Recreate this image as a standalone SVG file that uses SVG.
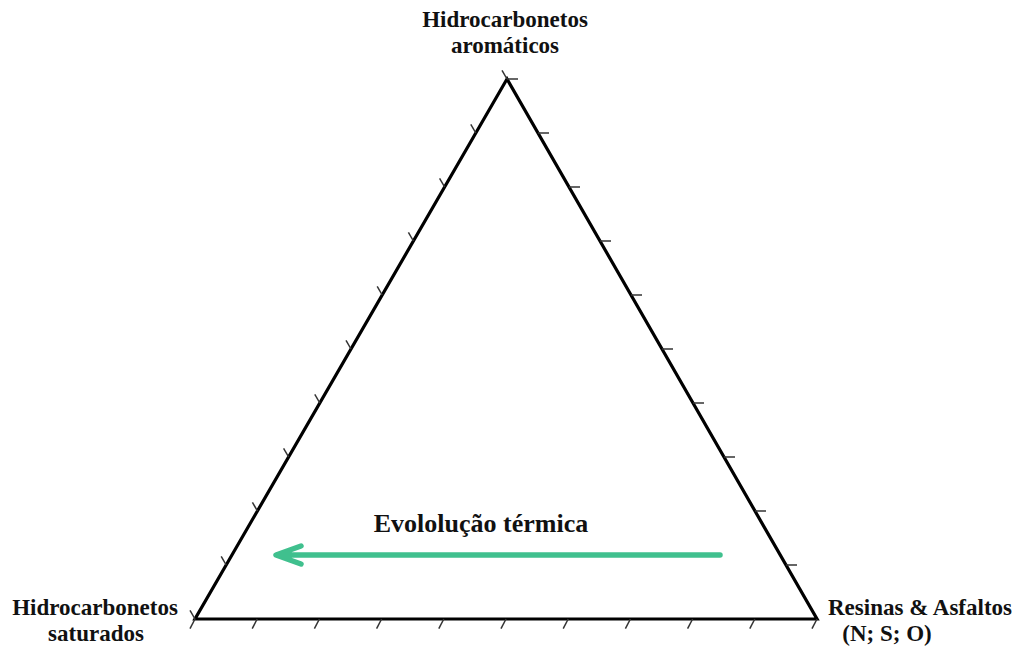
<svg xmlns="http://www.w3.org/2000/svg" width="1014" height="650" viewBox="0 0 1014 650">
<style>
.lbl{font-family:"Liberation Serif","Times New Roman",serif;font-weight:bold;font-size:23px;fill:#111;text-anchor:middle}
.tk{stroke:#333;stroke-width:1.5;fill:none}
.edge{stroke:#000;stroke-width:3.2;fill:none;stroke-linejoin:miter}
</style>
<rect width="1014" height="650" fill="#fff"/>
<g id="triangle">
<polygon class="edge" points="507,79 195,619 817,619"/>
</g>
<g id="ticks">
<g id="ticks-bottom" class="tk">
<line x1="195" y1="619" x2="190" y2="628.7"/>
<line x1="257.2" y1="619" x2="252.2" y2="628.7"/>
<line x1="319.4" y1="619" x2="314.4" y2="628.7"/>
<line x1="381.6" y1="619" x2="376.6" y2="628.7"/>
<line x1="443.8" y1="619" x2="438.8" y2="628.7"/>
<line x1="506" y1="619" x2="501" y2="628.7"/>
<line x1="568.2" y1="619" x2="563.2" y2="628.7"/>
<line x1="630.4" y1="619" x2="625.4" y2="628.7"/>
<line x1="692.6" y1="619" x2="687.6" y2="628.7"/>
<line x1="754.8" y1="619" x2="749.8" y2="628.7"/>
<line x1="817" y1="619" x2="812" y2="628.7"/>
</g>
<g id="ticks-left" class="tk">
<line x1="195" y1="619" x2="190" y2="610.3"/>
<line x1="226.2" y1="565" x2="221.2" y2="556.3"/>
<line x1="257.4" y1="511" x2="252.4" y2="502.3"/>
<line x1="288.6" y1="457" x2="283.6" y2="448.3"/>
<line x1="319.8" y1="403" x2="314.8" y2="394.3"/>
<line x1="351" y1="349" x2="346" y2="340.3"/>
<line x1="382.2" y1="295" x2="377.2" y2="286.3"/>
<line x1="413.4" y1="241" x2="408.4" y2="232.3"/>
<line x1="444.6" y1="187" x2="439.6" y2="178.3"/>
<line x1="475.8" y1="133" x2="470.8" y2="124.3"/>
<line x1="507" y1="79" x2="502" y2="70.3"/>
</g>
<g id="ticks-right" class="tk">
<line x1="507" y1="79" x2="518" y2="79"/>
<line x1="538" y1="133" x2="549" y2="133"/>
<line x1="569" y1="187" x2="580" y2="187"/>
<line x1="600" y1="241" x2="611" y2="241"/>
<line x1="631" y1="295" x2="642" y2="295"/>
<line x1="662" y1="349" x2="673" y2="349"/>
<line x1="693" y1="403" x2="704" y2="403"/>
<line x1="724" y1="457" x2="735" y2="457"/>
<line x1="755" y1="511" x2="766" y2="511"/>
<line x1="786" y1="565" x2="797" y2="565"/>
</g>
</g>
<g id="node-aromaticos">
<text class="lbl" x="505" y="27">Hidrocarbonetos</text>
<text class="lbl" x="505" y="53">aromáticos</text>
</g>
<g id="node-saturados">
<text class="lbl" x="95" y="615">Hidrocarbonetos</text>
<text class="lbl" x="96" y="641">saturados</text>
</g>
<g id="node-resinas">
<text class="lbl" x="920" y="615">Resinas &amp; Asfaltos</text>
<text class="lbl" x="887" y="641">(N; S; O)</text>
</g>
<g id="connectors">
<path d="M720,555 L277,555 M301,546 L276,555 L301,564" stroke="#40c08e" stroke-width="5.5" fill="none" stroke-linecap="round" stroke-linejoin="round"/>
<text class="lbl" x="481" y="532" style="font-size:26px">Evololução térmica</text>
</g>
</svg>
